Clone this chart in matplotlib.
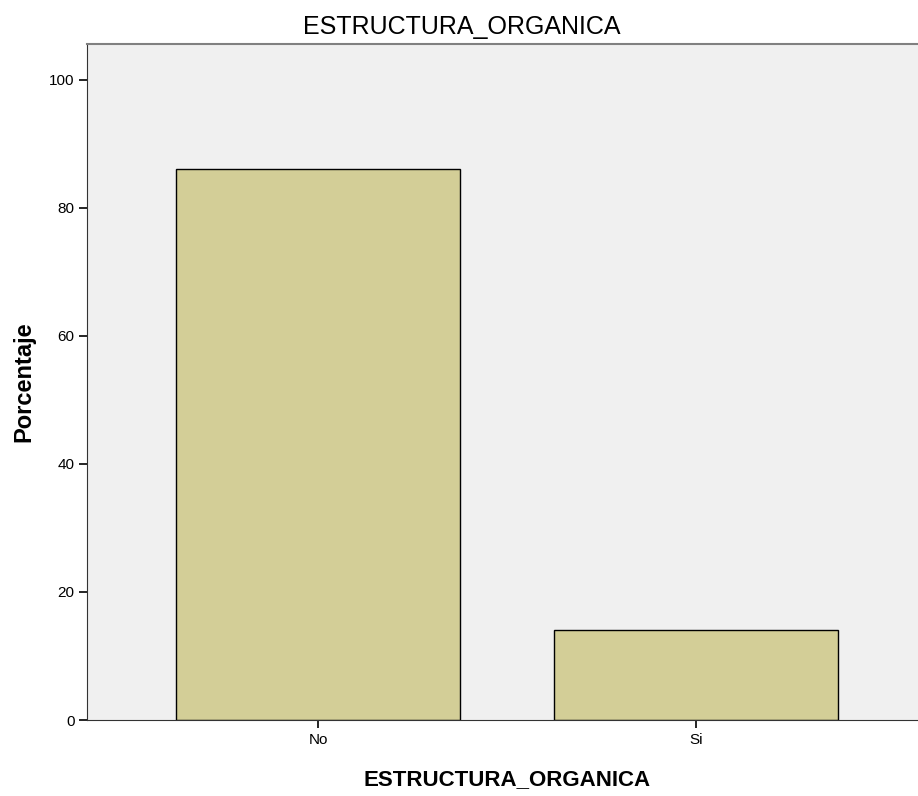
import matplotlib
matplotlib.use("Agg")
import matplotlib.pyplot as plt

categories = ["No", "Si"]
porcentaje = [86.0, 14.0]
y_ticks = [0, 20, 40, 60, 80, 100]

plt.rcParams['font.family'] = ['Liberation Sans', 'DejaVu Sans']

fig = plt.figure(figsize=(9.18, 7.96), dpi=100)
ax = fig.add_axes([87 / 918, 76 / 796, 840 / 918, 676 / 796])
ax.set_facecolor('#f0f0f0')

x = range(len(categories))
ax.bar(x, porcentaje, width=0.75, color='#d3ce97', edgecolor='black', linewidth=1.0)

ax.set_xlim(-0.611, 1.611)
ax.set_ylim(0, 105.6)
ax.set_xticks(list(x))
ax.set_xticklabels(categories)
ax.set_yticks(y_ticks)
ax.tick_params(axis='both', direction='out', length=6, width=1.2, labelsize=11, pad=3)

ax.spines['right'].set_visible(False)
ax.spines['top'].set_color('#808080')
ax.spines['top'].set_linewidth(1.5)
ax.spines['left'].set_color('#333333')
ax.spines['bottom'].set_color('#333333')

ax.set_xlabel("ESTRUCTURA_ORGANICA", fontsize=16, fontweight='bold', labelpad=16)
ax.set_ylabel("Porcentaje", fontsize=17, fontweight='bold', labelpad=10)
fig.text(462 / 918, 1 - 27 / 796, "ESTRUCTURA_ORGANICA", ha='center', va='center', fontsize=18)

fig.savefig("out.png", dpi=100)
